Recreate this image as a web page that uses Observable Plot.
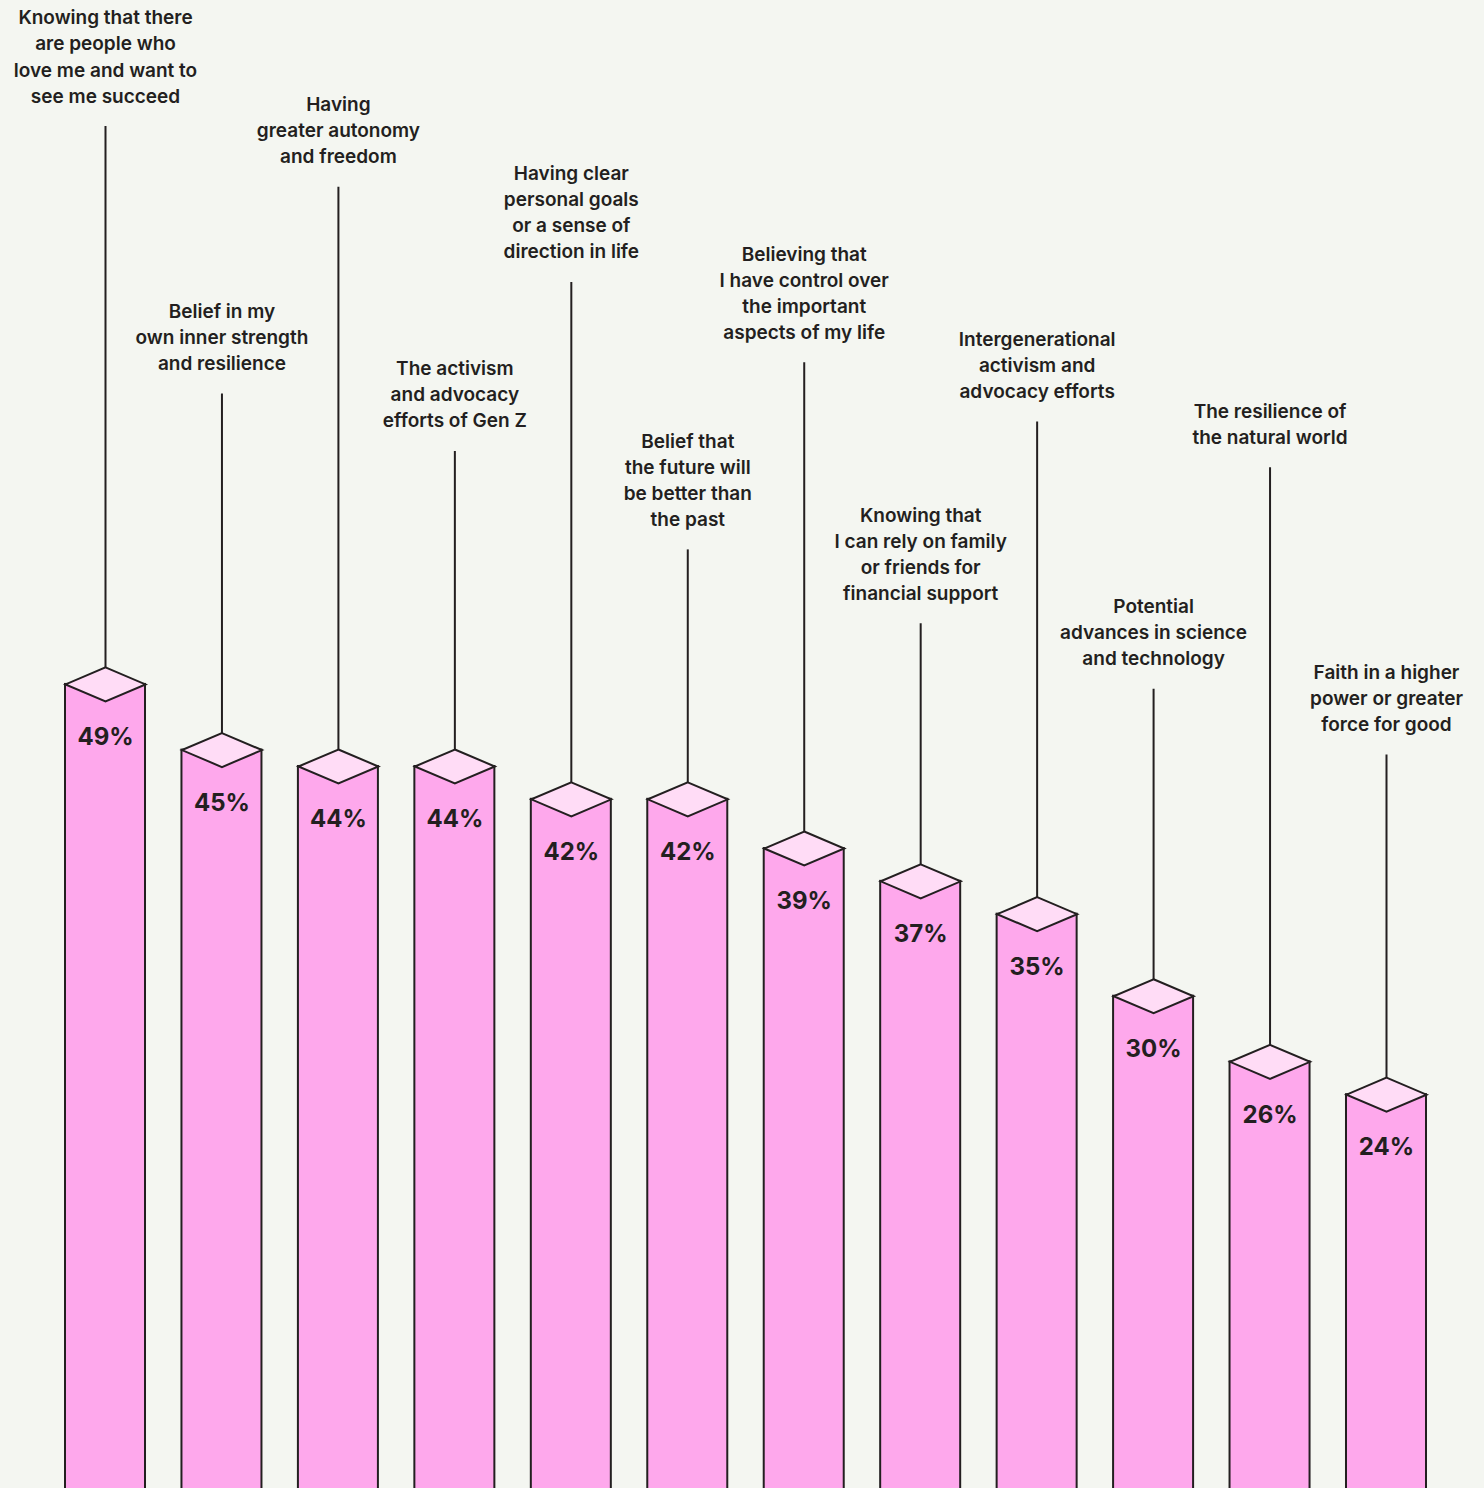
<!DOCTYPE html>
<html>
<head>
<meta charset="utf-8">
<script src="https://cdn.jsdelivr.net/npm/d3@7"></script>
<script src="https://cdn.jsdelivr.net/npm/@observablehq/plot@0.6"></script>
<style>
  html, body { margin: 0; padding: 0; background: #f4f6f1; }
  #chart svg { display: block; }
</style>
</head>
<body>
<div id="chart"></div>
<script>
const labels = [
  "Knowing that there\nare people who\nlove me and want to\nsee me succeed",
  "Belief in my\nown inner strength\nand resilience",
  "Having\ngreater autonomy\nand freedom",
  "The activism\nand advocacy\nefforts of Gen Z",
  "Having clear\npersonal goals\nor a sense of\ndirection in life",
  "Belief that\nthe future will\nbe better than\nthe past",
  "Believing that\nI have control over\nthe important\naspects of my life",
  "Knowing that\nI can rely on family\nor friends for\nfinancial support",
  "Intergenerational\nactivism and\nadvocacy efforts",
  "Potential\nadvances in science\nand technology",
  "The resilience of\nthe natural world",
  "Faith in a higher\npower or greater\nforce for good"
];
const values = [49, 45, 44, 44, 42, 42, 39, 37, 35, 30, 26, 24];
// top of each leader line, in the same percent units as the y axis
const leaderTop = [83.0, 66.7, 79.3, 63.2, 73.5, 57.2, 68.6, 52.7, 65.0, 48.7, 62.2, 44.7];

const data = labels.map((label, i) => ({label, value: values[i], top: leaderTop[i]}));

const ink = "#231f20";
const diamond = {
  draw(ctx) {
    ctx.moveTo(0, -17);
    ctx.lineTo(40, 0);
    ctx.lineTo(0, 17);
    ctx.lineTo(-40, 0);
    ctx.closePath();
  }
};

const chart = Plot.plot({
  width: 1484,
  height: 1488,
  margin: 0,
  style: {background: "#f4f6f1", fontFamily: "Inter, sans-serif", color: ink},
  x: {type: "band", domain: labels, range: [65, 1426], paddingInner: 0.313, paddingOuter: 0, round: false, axis: null},
  y: {domain: [0, 90.68], range: [1488, 0], axis: null},
  marks: [
    Plot.ruleX(data, {x: "label", y1: "top", y2: "value", stroke: ink, strokeWidth: 2}),
    Plot.rectY(data, {x: "label", y1: -1, y2: "value", fill: "#fea8ec", stroke: ink, strokeWidth: 2}),
    Plot.dot(data, {x: "label", y: "value", symbol: diamond, r: 10, fill: "#ffdcf6", stroke: ink, strokeWidth: 2}),
    Plot.text(data, {x: "label", y: "value", text: d => d.value + "%", dy: 53, fontSize: 24, fontWeight: 700, fill: ink}),
    Plot.text(data, {x: "label", y: "top", text: "label", lineAnchor: "bottom", dy: -24, fontSize: 19, fontWeight: 600, lineHeight: 1.37, fill: ink})
  ]
});
document.getElementById("chart").appendChild(chart);
</script>
</body>
</html>
